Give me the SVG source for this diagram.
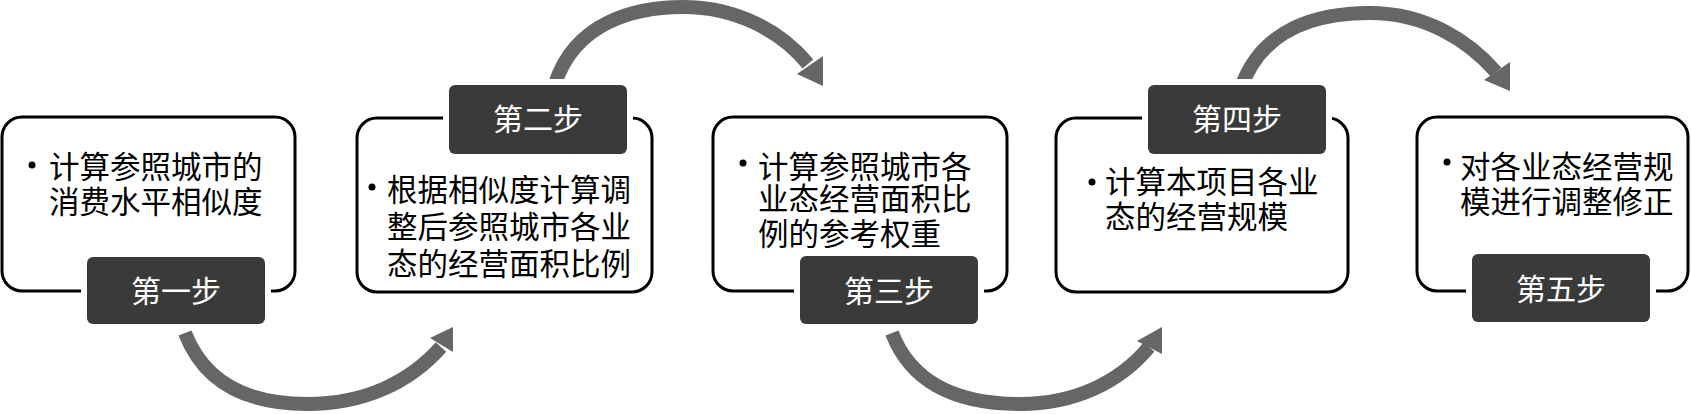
<svg xmlns="http://www.w3.org/2000/svg" width="1691" height="414" viewBox="0 0 1691 414">
<style>
.box{fill:#fff;stroke:#000;stroke-width:3}
.lbl{fill:#3a3a3a;stroke:#fff;stroke-width:12;paint-order:stroke}
.t{font-family:"Noto Sans CJK SC","Noto Sans CJK JP",sans-serif;font-size:30.5px;fill:#000}
.lt{font-family:"Noto Sans CJK SC","Noto Sans CJK JP",sans-serif;font-size:30px;fill:#fff;text-anchor:middle}
.arc{fill:none;stroke:#666;stroke-width:14}
.head{fill:#666}
</style>
<rect width="1691" height="414" fill="#fff"/>
<g id="box1"><rect class="box" x="2" y="117" width="293" height="174" rx="20"/>
<circle cx="32" cy="165" r="3.5"/>
<text class="t" x="49" y="178">计算参照城市的</text>
<text class="t" x="49" y="213">消费水平相似度</text></g>
<g id="box2"><rect class="box" x="357" y="118" width="295" height="174" rx="20"/>
<circle cx="372" cy="187" r="3.5"/>
<text class="t" x="387" y="201">根据相似度计算调</text>
<text class="t" x="387" y="238">整后参照城市各业</text>
<text class="t" x="387" y="275">态的经营面积比例</text></g>
<g id="box3"><rect class="box" x="713" y="117" width="294" height="174" rx="20"/>
<circle cx="743" cy="163" r="3.5"/>
<text class="t" x="758" y="178">计算参照城市各</text>
<text class="t" x="758" y="210">业态经营面积比</text>
<text class="t" x="758" y="245">例的参考权重</text></g>
<g id="box4"><rect class="box" x="1056" y="118" width="292" height="174" rx="20"/>
<circle cx="1092" cy="182" r="3.5"/>
<text class="t" x="1105" y="193">计算本项目各业</text>
<text class="t" x="1105" y="228">态的经营规模</text></g>
<g id="box5"><rect class="box" x="1417" y="117" width="271" height="174" rx="20"/>
<circle cx="1447" cy="162" r="3.5"/>
<text class="t" x="1460" y="178">对各业态经营规</text>
<text class="t" x="1460" y="213">模进行调整修正</text></g>
<g id="connectors">
<path class="arc" d="M185,333 C205,385 250,404 307,404 C365,404 410,382 441,347"/>
<polygon class="head" points="430,338 453,327 453,352"/>
<path class="arc" d="M555,84 C575,22 635,7 683,7 C735,7 780,30 808,64"/>
<polygon class="head" points="797,74 823,86 823,56"/>
<path class="arc" d="M892,333 C912,385 960,404 1020,404 C1075,404 1120,382 1149,347"/>
<polygon class="head" points="1137,341 1162,327 1162,354"/>
<path class="arc" d="M1241,88 C1262,27 1320,13 1370,13 C1425,13 1468,40 1496,72"/>
<polygon class="head" points="1484,80 1510,91 1510,62"/>
</g>
<g id="label1"><rect class="lbl" x="87" y="257" width="178" height="67" rx="6"/><text class="lt" x="176" y="302">第一步</text></g>
<g id="label2"><rect class="lbl" x="449" y="85" width="178" height="69" rx="6"/><text class="lt" x="538" y="130">第二步</text></g>
<g id="label3"><rect class="lbl" x="800" y="256" width="178" height="68" rx="6"/><text class="lt" x="889" y="302">第三步</text></g>
<g id="label4"><rect class="lbl" x="1148" y="85" width="178" height="69" rx="6"/><text class="lt" x="1237" y="130">第四步</text></g>
<g id="label5"><rect class="lbl" x="1472" y="254" width="178" height="68" rx="6"/><text class="lt" x="1561" y="300">第五步</text></g>
</svg>
